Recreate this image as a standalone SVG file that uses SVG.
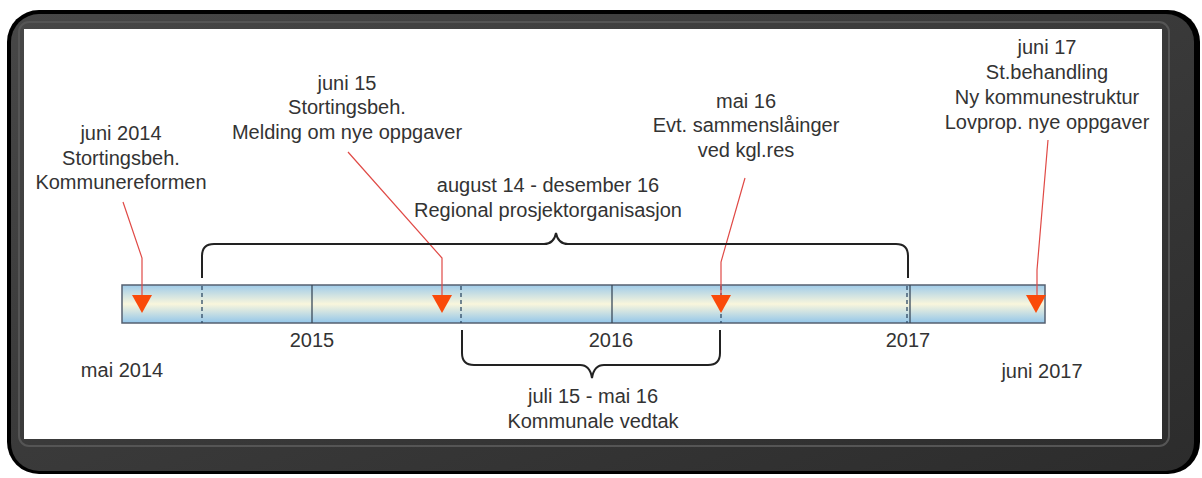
<svg xmlns="http://www.w3.org/2000/svg" width="1202" height="478" viewBox="0 0 1202 478">
<defs>
<linearGradient id="bar" x1="0" y1="0" x2="0" y2="1">
<stop offset="0" stop-color="#9fcbe9"/>
<stop offset="0.5" stop-color="#f9f6dc"/>
<stop offset="1" stop-color="#93c6ea"/>
</linearGradient>
<linearGradient id="frameR" x1="0" y1="0" x2="1" y2="1">
<stop offset="0" stop-color="#474747"/>
<stop offset="1" stop-color="#2c2c2c"/>
</linearGradient>
<style>
.t{font-family:"Liberation Sans",Arial,sans-serif;font-size:20px;fill:#333;text-anchor:middle}
.red{fill:none;stroke:#e04a46;stroke-width:1.2}
.tri{fill:#fa4a0a}
.brace{fill:none;stroke:#222;stroke-width:2}
.solid{stroke:#3a4a5a;stroke-width:1.3}
.dash{stroke:#2f4a66;stroke-width:1.3;stroke-dasharray:4 3}
</style>
</defs>
<g id="frame">
<rect x="7" y="10" width="1193" height="464" rx="32" fill="#000"/>
<rect x="11" y="14" width="1183" height="457" rx="28" fill="url(#frameR)"/>
<rect x="19" y="22" width="1150" height="424" rx="10" fill="none" stroke="#555" stroke-width="2"/>
<rect x="24" y="29" width="1138" height="410" fill="#fff"/>
</g>
<g id="timeline">
<rect x="122" y="285" width="923" height="38" fill="url(#bar)" stroke="#556070" stroke-width="1.5"/>
<line class="solid" x1="312" y1="285" x2="312" y2="323"/>
<line class="solid" x1="612" y1="285" x2="612" y2="323"/>
<line class="solid" x1="910" y1="285" x2="910" y2="323"/>
<line class="dash" x1="202" y1="286" x2="202" y2="323"/>
<line class="dash" x1="461" y1="286" x2="461" y2="323"/>
<line class="dash" x1="721" y1="286" x2="721" y2="323"/>
<line class="dash" x1="907" y1="286" x2="907" y2="323"/>
</g>
<g id="connectors">
<polyline class="red" points="123,202 142,258 142,296"/>
<polyline class="red" points="348,152 442,258 442,296"/>
<polyline class="red" points="745,178 721,262 721,296"/>
<polyline class="red" points="1048,140 1037,270 1037,296"/>
<path class="brace" d="M202,278 V256 Q202,244 214,244 H544 Q554,244 556,233 Q558,244 568,244 H896 Q908,244 908,256 V278"/>
<path class="brace" d="M462,330 V353 Q462,365 474,365 H580 Q590,365 592,378 Q594,365 604,365 H708 Q720,365 720,353 V330"/>
</g>
<g id="m1"><polygon class="tri" points="132,295 152,295 142,313"/></g>
<g id="m2"><polygon class="tri" points="432,295 452,295 442,313"/></g>
<g id="m3"><polygon class="tri" points="711,295 731,295 721,313"/></g>
<g id="m4"><polygon class="tri" points="1026,295 1046,295 1036,313"/></g>
<g id="n-juni2014">
<text class="t" x="121" y="140">juni 2014</text>
<text class="t" x="121" y="165">Stortingsbeh.</text>
<text class="t" x="121" y="189">Kommunereformen</text>
</g>
<g id="n-juni15">
<text class="t" x="347" y="90">juni 15</text>
<text class="t" x="347" y="114">Stortingsbeh.</text>
<text class="t" x="347" y="139">Melding om nye oppgaver</text>
</g>
<g id="n-mai16">
<text class="t" x="746" y="108">mai 16</text>
<text class="t" x="746" y="132">Evt. sammenslåinger</text>
<text class="t" x="746" y="157">ved kgl.res</text>
</g>
<g id="n-juni17">
<text class="t" x="1047" y="54">juni 17</text>
<text class="t" x="1047" y="79">St.behandling</text>
<text class="t" x="1047" y="104">Ny kommunestruktur</text>
<text class="t" x="1047" y="129">Lovprop. nye oppgaver</text>
</g>
<g id="n-regional">
<text class="t" x="548" y="192">august 14 - desember 16</text>
<text class="t" x="548" y="217">Regional prosjektorganisasjon</text>
</g>
<g id="n-kommunale">
<text class="t" x="593" y="403">juli 15 - mai 16</text>
<text class="t" x="593" y="428">Kommunale vedtak</text>
</g>
<g id="labels">
<text class="t" x="312" y="347">2015</text>
<text class="t" x="611" y="347">2016</text>
<text class="t" x="908" y="347">2017</text>
<text class="t" x="122" y="377">mai 2014</text>
<text class="t" x="1042" y="378">juni 2017</text>
</g>
</svg>
